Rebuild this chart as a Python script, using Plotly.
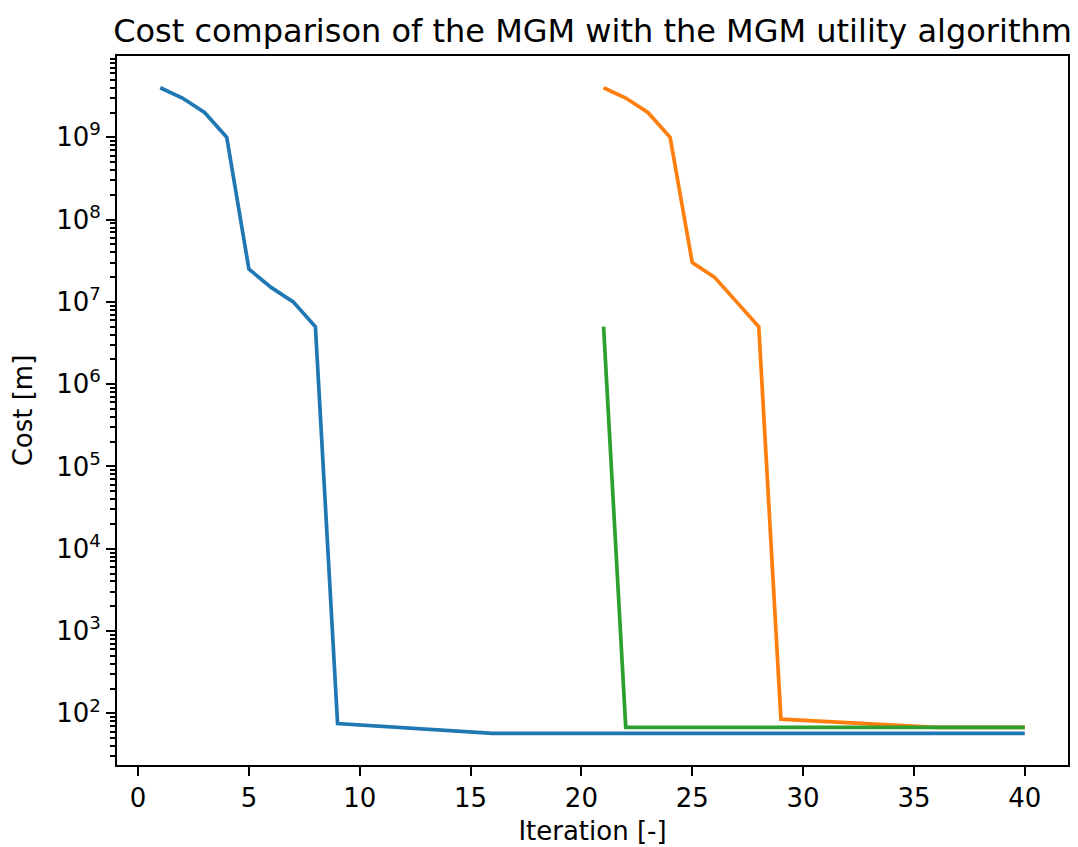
import plotly.graph_objects as go

# ---- data ----
iter_mgm = list(range(1, 41))
cost_mgm = [4e9, 3e9, 2e9, 1e9, 2.5e7, 1.5e7, 1e7, 5e6,
            75, 72, 69, 66, 63.5, 61, 59, 57] + [57] * 24

iter_util = list(range(21, 41))
cost_util = [4e9, 3e9, 2e9, 1e9, 3e7, 2e7, 1e7, 5e6,
             85, 82, 79.5, 77, 74.5, 72, 69.7, 67.5, 67.5, 67.5, 67.5, 67.5]

iter_util2 = list(range(21, 41))
cost_util2 = [5e6] + [67.5] * 19

x_ticks = [0, 5, 10, 15, 20, 25, 30, 35, 40]
y_exps = [2, 3, 4, 5, 6, 7, 8, 9]

colors = ["#1f77b4", "#ff7f0e", "#2ca02c"]
FONT = "DejaVu Sans"

# page body adds an 8px offset, so the figure is made 8px smaller
OFF = 8
W, H = 1078 - OFF, 847 - OFF

fig = go.Figure()
for xs, ys, c in [(iter_mgm, cost_mgm, colors[0]),
                  (iter_util, cost_util, colors[1]),
                  (iter_util2, cost_util2, colors[2])]:
    fig.add_trace(go.Scatter(x=xs, y=ys, mode="lines",
                             line=dict(color=c, width=3.7), showlegend=False))

y_tickvals = [10 ** e for e in y_exps]
y_ticktext = [f"10<sup>{e}</sup>" for e in y_exps]
minor_vals = [k * 10 ** d for d in range(1, 10) for k in range(2, 10)]

fig.update_layout(
    width=W, height=H,
    margin=dict(l=117 - OFF, r=10, t=56 - OFF, b=82, autoexpand=False),
    paper_bgcolor="white", plot_bgcolor="white",
    font=dict(family=FONT, size=26, color="black"),
    title=dict(text="Cost comparison of the MGM with the MGM utility algorithm",
               x=0.5, xref="paper", y=1 - (31 - OFF) / H, yref="container",
               yanchor="middle", xanchor="center",
               font=dict(family=FONT, size=32, color="black")),
    xaxis=dict(range=[-0.95, 41.95], tickvals=x_ticks, automargin=False,
               ticks="outside", ticklen=9, tickwidth=2, tickcolor="black",
               showline=True, linewidth=2, linecolor="black", mirror=True,
               showgrid=False, zeroline=False,
               tickfont=dict(size=26),
               title=dict(text="Iteration [-]", font=dict(size=26), standoff=10)),
    yaxis=dict(type="log", range=[1.372, 9.988], automargin=False,
               tickvals=y_tickvals, ticktext=y_ticktext,
               ticks="outside", ticklen=9, tickwidth=2, tickcolor="black",
               minor=dict(tickvals=minor_vals, ticks="outside", ticklen=5,
                          tickwidth=1.5, tickcolor="black", showgrid=False),
               showline=True, linewidth=2, linecolor="black", mirror=True,
               showgrid=False, zeroline=False,
               tickfont=dict(size=26),
               title=dict(text="Cost [m]", font=dict(size=26), standoff=16)),
)

fig.write_html("out.html")
